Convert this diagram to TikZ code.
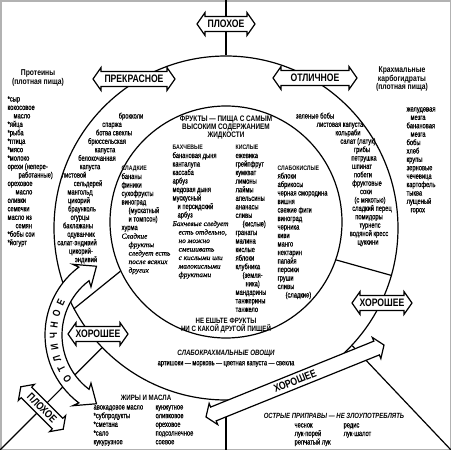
\documentclass[tikz,border=0pt]{standalone}
\usepackage{fontspec}
\setmainfont{Liberation Sans}[FakeStretch=0.8]
\newfontfamily\narrowfont{Liberation Sans}[FakeStretch=0.73, FakeBold=0.6]
\newfontfamily\notefont{Liberation Serif}[FakeBold=0.4]
\usetikzlibrary{shapes.arrows}

\begin{document}
\begin{tikzpicture}[x=1pt, y=-1pt, line width=1.2pt,
    ring/.style={draw, circle, inner sep=0pt},
    verdict/.style={double arrow, draw, fill=white, font=\bfseries\fontsize{10.8}{12}\selectfont,
            double arrow head extend=4pt, double arrow tip angle=110,
            inner xsep=0pt, inner ysep=3pt, minimum width=0pt},
    food/.style={font=\narrowfont\fontsize{7.9}{9}\selectfont, inner sep=0pt},
    group/.style={font=\bfseries\fontsize{6.5}{8}\selectfont, inner sep=0pt},
    head/.style={font=\bfseries\fontsize{8.5}{8.3}\selectfont, align=center, inner sep=0pt},
    note/.style={font=\notefont\itshape\fontsize{7.3}{9}\selectfont, inner sep=0pt},
    slant/.style={font=\bfseries\itshape\fontsize{7.7}{9}\selectfont, inner sep=0pt}]
    \useasboundingbox (0,0) rectangle (451,450);
    \draw[gray!60, line width=1.5pt] (0.75,0.75) rectangle (450.25,449.25);

    % circles
    \node[ring, minimum size=344] (veg) at (226,228) {};
    \node[ring, minimum size=232] (fruit) at (226,222) {};

    % dividing lines
    \coordinate (topmid) at (226,0);
    \coordinate (botmid) at (226,450);
    \coordinate (blc) at (0,450);
    \coordinate (brc) at (451,450);
    \draw (topmid) -- (veg.north);
    \draw (veg.south) -- (botmid);
    \draw (blc) -- (veg.-136.4);
    \draw (brc) -- (veg.-43.8);
    \draw (fruit.-19) -- (veg.-16.5);
    \draw (fruit.205) -- (veg.208);

    % curved band
    \coordinate (B) at (130,335);
    \draw[fill=white] ([shift={(127:85)}]B) arc[start angle=127, end angle=233, radius=85]
        -- ([shift={(231:91)}]B) -- ([shift={(244:76.5)}]B) -- ([shift={(231:62)}]B)
        -- ([shift={(233:68)}]B) arc[start angle=233, end angle=127, radius=68]
        -- ([shift={(129:62)}]B) -- ([shift={(116:76.5)}]B) -- ([shift={(129:91)}]B) -- cycle;
    \foreach \ch [count=\i from 0] in {О,Т,Л,И,Ч,Н,О,Е}
        \node[font=\bfseries\fontsize{10.5}{10}\selectfont, inner sep=0pt, rotate={-235-8.57*\i}]
            (exc\i) at ([shift={({145+8.57*\i}:76.5)}]B) {\ch};

    % verdicts
    \node[verdict, minimum height=58] (bad1) at (226,24) {ПЛОХОЕ};
    \node[verdict, minimum height=82] (great) at (134,79) {ПРЕКРАСНОЕ};
    \node[verdict, minimum height=84] (exc) at (315,78) {ОТЛИЧНОЕ};
    \node[verdict, minimum height=60] (good1) at (382,303) {ХОРОШЕЕ};
    \node[verdict, minimum height=60] (good2) at (98,334) {ХОРОШЕЕ};
    \node[verdict, minimum height=60, rotate=-45] (bad2) at (42,408) {ПЛОХОЕ};
    \node[verdict, minimum height=192, rotate=22] (good3) at (295,381) {ХОРОШЕЕ};

    % proteins
    \node[head] (prothead) at (38,78) {Протеины\\(плотная пища)};
    \foreach \dx/\t [count=\i from 0] in {0/*сыр, 0/кокосовое, 6/масло, 0/*яйца, 0/*рыба, 0/*птица,
            0/*мясо, 0/*молоко, 0/орехи (непере-, 11/работанные), 0/ореховое, 8/масло, 0/оливки,
            0/семечки, 0/масло из, 8/семян, 0/*бобы сои, 0/*йогурт}
        \node[food, anchor=base west] (prot\i) at ({7+\dx}, {101.5+8.45*\i}) {\t};

    % starches
    \node[head] (carbhead) at (402,79) {Крахмальные\\карбогидраты\\(плотная пища)};
    \foreach \dx/\t [count=\i from 0] in {0/желудевая, 4/мезга, 0/банановая, 4/мезга, 0/бобы, 0/хлеб,
            0/крупы, 0/зерновые, 0/чечевица, 0/картофель, 0/тыква, 0/лущеный, 4/горох}
        \node[food, anchor=base west] (carb\i) at ({406+\dx}, {111.5+8.4*\i}) {\t};

    % green vegetables
    \foreach \cx/\t [count=\i from 0] in {131/брокколи, 112/спаржа, 114/ботва свеклы, 107/брюссельская,
            105/капуста, 97/белокочанная, 90/капуста, 74/листовой, 88/сельдерей, 80/мангольд,
            79/цикорий, 82/браунколь, 80/огурцы, 78/баклажаны, 81/одуванчик, 77/салат-эндивий,
            81/цикорий-, 86/эндивий}
        \node[food, anchor=base] (gl\i) at (\cx, {118.5+8.45*\i}) {\t};
    \foreach \cx/\t [count=\i from 0] in {315/зеленые бобы, 340/листовая капуста, 348/кольраби,
            358/салат (латук), 362/грибы, 364/петрушка, 362/шпинат, 363/побеги, 367/фруктовые,
            366/соки, 370/(с мякотью), 372/сладкий перец, 369/помидоры, 370/турнепс,
            369/водяной кресс, 368/цуккини}
        \node[food, anchor=base] (gr\i) at (\cx, {118.5+8.4*\i}) {\t};

    % fruits
    \node[head, font=\bfseries\fontsize{8}{8}\selectfont] (fruithead) at (226,128)
        {ФРУКТЫ — ПИЩА С САМЫМ\\ВЫСОКИМ СОДЕРЖАНИЕМ\\ЖИДКОСТИ};
    \node[group, anchor=base west] (sweet) at (121,170.5) {СЛАДКИЕ};
    \foreach \dx/\t [count=\i] in {0/бананы, 0/финики, 0/сухофрукты, 0/виноград, 7/(мускатный,
            7/и томпсон), 0/хурма}
        \node[food, anchor=base west] (sw\i) at ({121+\dx}, {170.5+8.5*\i}) {\t};
    \foreach \dx/\t [count=\i from 8] in {0/Сладкие, 7/фрукты, 7/следует есть, 7/после всяких, 7/других}
        \node[note, anchor=base west] (swn\i) at ({121+\dx}, {170.5+8.5*\i}) {\t};
    \node[group, anchor=base west] (melon) at (172,149.5) {БАХЧЕВЫЕ};
    \foreach \dx/\t [count=\i] in {0/банановая дыня, 0/канталупа, 0/кассаба, 0/арбуз, 0/медовая дыня,
            0/мускусный, 5/и персидский, 5/арбуз}
        \node[food, anchor=base west] (ml\i) at ({172+\dx}, {149.5+8.5*\i}) {\t};
    \foreach \dx/\t [count=\i from 9] in {0/Бахчевые следует, 6/есть отдельно{,}, 6/но можно,
            6/смешивать, 6/с кислыми или, 6/малокислыми, 6/фруктами}
        \node[note, anchor=base west] (mln\i) at ({172+\dx}, {149.5+8.5*\i}) {\t};
    \node[group, anchor=base west] (acid) at (235,149.5) {КИСЛЫЕ};
    \foreach \dx/\t [count=\i] in {0/ежевика, 0/грейпфрут, 0/кумкват, 0/лимоны, 0/лаймы, 0/апельсины,
            0/ананасы, 0/сливы, 7/(кислые), 0/гранаты, 0/малина, 0/кислые, 0/яблоки, 0/клубника,
            7/(земля-, 10/ника), 0/мандарины, 0/танжерины, 0/танжело}
        \node[food, anchor=base west] (ac\i) at ({235+\dx}, {149.5+8.55*\i}) {\t};
    \node[group, anchor=base west] (subacid) at (277,170) {СЛАБОКИСЛЫЕ};
    \foreach \dx/\t [count=\i] in {0/яблоки, 0/абрикосы, 0/черная смородина, 0/вишня, 0/свежие фиги,
            0/виноград, 0/черника, 0/киви, 0/манго, 0/нектарин, 0/папайя, 0/персики, 0/груши,
            0/сливы, 8/(сладкие)}
        \node[food, anchor=base west] (sa\i) at ({277+\dx}, {170+8.5*\i}) {\t};
    \node[head, font=\bfseries\fontsize{7.7}{8}\selectfont] (alone) at (226,326)
        {НЕ ЕШЬТЕ ФРУКТЫ\\НИ С КАКОЙ ДРУГОЙ ПИЩЕЙ};

    % low-starch vegetables
    \node[slant] (lowstarch) at (226,354) {СЛАБОКРАХМАЛЬНЫЕ ОВОЩИ};
    \node[food] (lowlist) at (226,364) {артишоки — морковь — цветная капуста — свекла};

    % fats
    \node[head, font=\bfseries\fontsize{7.7}{9}\selectfont] (fats) at (146,398) {ЖИРЫ И МАСЛА};
    \foreach \t [count=\i from 0] in {авокадовое масло, *субпродукты, *сметана, *сало, кукурузное}
        \node[food, anchor=base west] (fl\i) at (93, {409.5+8.7*\i}) {\t};
    \foreach \t [count=\i from 0] in {кунжутное, оливковое, ореховое, подсолнечное, соевое}
        \node[food, anchor=base west] (fr\i) at (155, {409.5+8.7*\i}) {\t};

    % spices
    \node[slant, font=\bfseries\itshape\fontsize{7.5}{9}\selectfont] (spice) at (334,416)
        {ОСТРЫЕ ПРИПРАВЫ — НЕ ЗЛОУПОТРЕБЛЯТЬ};
    \foreach \t [count=\i from 0] in {чеснок, лук-порей, репчатый лук}
        \node[food, anchor=base west] (sl\i) at (294, {427.5+8.5*\i}) {\t};
    \foreach \t [count=\i from 0] in {редис, лук-шалот}
        \node[food, anchor=base west] (sr\i) at (343, {427.5+8.5*\i}) {\t};
\end{tikzpicture}
\end{document}
